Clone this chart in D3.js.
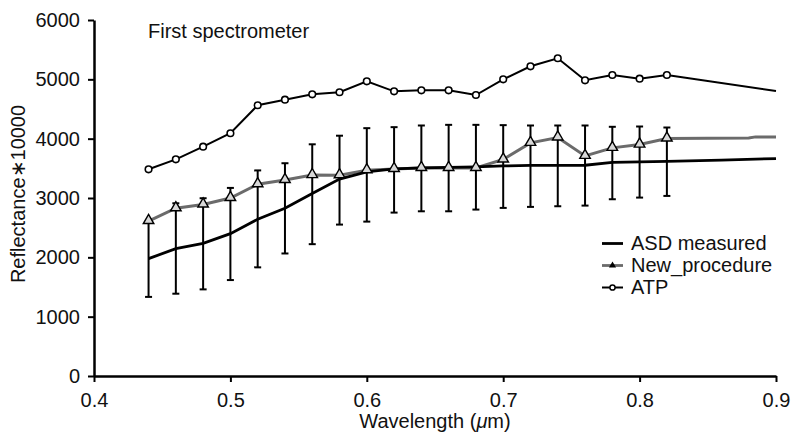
<!DOCTYPE html>
<html>
<head>
<meta charset="utf-8">
<script src="https://cdn.jsdelivr.net/npm/d3@7"></script>
<style>
  html, body { margin: 0; padding: 0; background: #fff; }
  svg { display: block; font-family: "Liberation Sans", Arial, sans-serif; }
</style>
</head>
<body>
<svg id="chart" width="791" height="433"></svg>
<script>
// Sampled wavelengths (µm) with markers
const wavelengths = [0.44, 0.46, 0.48, 0.50, 0.52, 0.54, 0.56, 0.58, 0.60, 0.62,
                     0.64, 0.66, 0.68, 0.70, 0.72, 0.74, 0.76, 0.78, 0.80, 0.82];

// ATP reflectance (*10000), plus its unmarked continuation to 0.9 µm
const atp = [3484, 3652, 3865, 4091, 4563, 4657, 4748, 4782, 4967, 4798,
             4815, 4815, 4736, 5000, 5220, 5355, 4984, 5073, 5011, 5073];
const atpTailWl = [0.90];
const atpTail = [4803];

// New procedure reflectance (*10000), plus continuation
const newProcedure = [2612, 2827, 2890, 3000, 3232, 3303, 3386, 3384, 3468, 3490,
                      3507, 3507, 3507, 3649, 3929, 4020, 3710, 3845, 3901, 4003];
const newTailWl = [0.88, 0.885, 0.90];
const newTail = [4010, 4030, 4030];

// ASD measured spectrum
const asdWl = [0.44, 0.46, 0.48, 0.50, 0.52, 0.54, 0.56, 0.58, 0.60, 0.62, 0.64,
               0.66, 0.68, 0.70, 0.72, 0.74, 0.76, 0.78, 0.80, 0.82, 0.86, 0.90];
const asd = [1978, 2147, 2236, 2399, 2641, 2827, 3075, 3318, 3440, 3490, 3507,
             3515, 3525, 3540, 3549, 3549, 3552, 3600, 3610, 3616, 3640, 3665];

// Error bar limits of the ASD measurements at the sampled wavelengths
const errUpper = [2612, 2911, 2996, 3170, 3465, 3586, 3905, 4050, 4177, 4194,
                  4222, 4233, 4233, 4228, 4222, 4222, 4222, 4200, 4205, 4188];
const errLower = [1333, 1387, 1460, 1617, 1831, 2065, 2222, 2552, 2602, 2754,
                  2776, 2776, 2805, 2833, 2850, 2861, 2872, 2979, 3007, 3035];

const xTicks = [0.4, 0.5, 0.6, 0.7, 0.8, 0.9];
const yTicks = [0, 1000, 2000, 3000, 4000, 5000, 6000];

const seriesNames = ["ASD measured", "New_procedure", "ATP"];

const svg = d3.select("#chart");
const margin = { left: 94, right: 15, top: 20, bottom: 57 };
const W = 791, H = 433;

const x = d3.scaleLinear().domain([0.4, 0.9]).range([margin.left, W - margin.right]);
const y = d3.scaleLinear().domain([0, 6000]).range([H - margin.bottom, margin.top]);

const fontSize = 20;
const grey = "#6b6b6b";

// Axes
const yAxis = d3.axisLeft(y).tickValues(yTicks).tickFormat(d3.format("d"))
  .tickSizeInner(6).tickSizeOuter(0).tickPadding(8);
const xAxis = d3.axisBottom(x).tickValues(xTicks).tickFormat(d3.format(".1f"))
  .tickSizeInner(6).tickSizeOuter(0).tickPadding(11);

const gy = svg.append("g").attr("transform", `translate(${margin.left},0)`).call(yAxis);
const gx = svg.append("g").attr("transform", `translate(0,${H - margin.bottom})`).call(xAxis);

[gx, gy].forEach(g => {
  g.select(".domain").attr("stroke", "#000").attr("stroke-width", 2.5);
  g.selectAll(".tick line").attr("stroke", "#000").attr("stroke-width", 2);
  g.selectAll(".tick text").attr("fill", "#111").style("font-size", fontSize + "px")
    .style("font-family", '"Liberation Sans", Arial, sans-serif');
});

// Error bars
const errData = wavelengths.map((w, i) => ({ w, lo: errLower[i], hi: errUpper[i] }));
const eb = svg.append("g").attr("stroke", "#000").attr("stroke-width", 2);
eb.selectAll("line.v").data(errData).join("line")
  .attr("x1", d => x(d.w)).attr("x2", d => x(d.w))
  .attr("y1", d => y(d.lo)).attr("y2", d => y(d.hi));
eb.selectAll("line.lo").data(errData).join("line")
  .attr("x1", d => x(d.w) - 3.5).attr("x2", d => x(d.w) + 3.5)
  .attr("y1", d => y(d.lo)).attr("y2", d => y(d.lo));
eb.selectAll("line.hi").data(errData).join("line")
  .attr("x1", d => x(d.w) - 3.5).attr("x2", d => x(d.w) + 3.5)
  .attr("y1", d => y(d.hi)).attr("y2", d => y(d.hi));

const line = d3.line().x(d => x(d[0])).y(d => y(d[1]));

// New procedure line (grey)
const newPts = wavelengths.map((w, i) => [w, newProcedure[i]])
  .concat(newTailWl.map((w, i) => [w, newTail[i]]));
svg.append("path").datum(newPts).attr("d", line)
  .attr("fill", "none").attr("stroke", grey).attr("stroke-width", 3);

// ASD measured line
const asdPts = asdWl.map((w, i) => [w, asd[i]]);
svg.append("path").datum(asdPts).attr("d", line)
  .attr("fill", "none").attr("stroke", "#000").attr("stroke-width", 2.8);

// Triangle markers
const tri = d3.symbol().type(d3.symbolTriangle).size(48);
svg.append("g").selectAll("path").data(wavelengths.map((w, i) => [w, newProcedure[i]])).join("path")
  .attr("d", tri)
  .attr("transform", d => `translate(${x(d[0])},${y(d[1]) - 0.5})`)
  .attr("fill", "#d8d8d8").attr("stroke", "#000").attr("stroke-width", 1.4);

// ATP line with open circles
const atpPts = wavelengths.map((w, i) => [w, atp[i]])
  .concat(atpTailWl.map((w, i) => [w, atpTail[i]]));
svg.append("path").datum(atpPts).attr("d", line)
  .attr("fill", "none").attr("stroke", "#000").attr("stroke-width", 2);
svg.append("g").selectAll("circle").data(wavelengths.map((w, i) => [w, atp[i]])).join("circle")
  .attr("cx", d => x(d[0])).attr("cy", d => y(d[1])).attr("r", 3.3)
  .attr("fill", "#fff").attr("stroke", "#000").attr("stroke-width", 1.6);

// Title
svg.append("text").attr("x", 148).attr("y", 37.5)
  .style("font-size", fontSize + "px").attr("fill", "#111")
  .text("First spectrometer");

// Axis titles
const xl = svg.append("text").attr("x", (x(0.4) + x(0.9)) / 2).attr("y", 428)
  .attr("text-anchor", "middle").style("font-size", fontSize + "px").attr("fill", "#111");
xl.append("tspan").text("Wavelength (");
xl.append("tspan").style("font-style", "italic").text("\u03bc");
xl.append("tspan").text("m)");

svg.append("text").attr("transform", "translate(25,194) rotate(-90)")
  .attr("text-anchor", "middle").style("font-size", fontSize + "px").attr("fill", "#111")
  .text("Reflectance\u221710000");

// Legend
const lg = svg.append("g");
const lx0 = 602, lx1 = 623, ly0 = 243.5, lstep = 22;
seriesNames.forEach((name, i) => {
  const yy = ly0 + i * lstep;
  lg.append("line").attr("x1", lx0).attr("x2", lx1).attr("y1", yy).attr("y2", yy)
    .attr("stroke", i === 1 ? grey : "#000").attr("stroke-width", i === 2 ? 2 : 2.8);
  if (i === 1) {
    lg.append("path").attr("d", d3.symbol().type(d3.symbolTriangle).size(22))
      .attr("transform", `translate(${(lx0 + lx1) / 2},${yy})`).attr("fill", "#000");
  }
  if (i === 2) {
    lg.append("circle").attr("cx", (lx0 + lx1) / 2).attr("cy", yy).attr("r", 2.6)
      .attr("fill", "#fff").attr("stroke", "#000").attr("stroke-width", 1.5);
  }
  lg.append("text").attr("x", 631).attr("y", yy + 6.5)
    .style("font-size", fontSize + "px").attr("fill", "#111").text(name);
});
</script>
</body>
</html>
